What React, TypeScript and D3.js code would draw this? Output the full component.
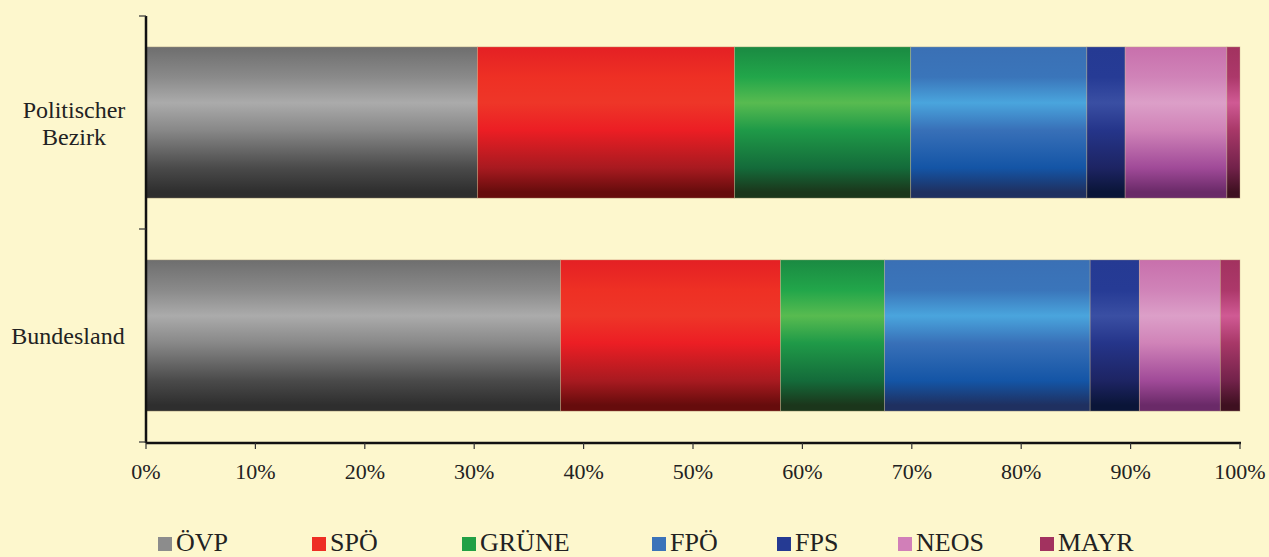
import React from "react";
import * as d3 from "d3";

const categories = ["Politischer Bezirk", "Bundesland"];
const parties = ["ÖVP", "SPÖ", "GRÜNE", "FPÖ", "FPS", "NEOS", "MAYR"];
const bezirkValues = [30.3, 23.5, 16.1, 16.1, 3.5, 9.3, 1.2];
const bundeslandValues = [37.9, 20.1, 9.5, 18.8, 4.5, 7.4, 1.8];
const xTicks = [0, 10, 20, 30, 40, 50, 60, 70, 80, 90, 100];

const legendColors = ["#8c8c8c", "#ee2e24", "#22a046", "#3b73b9", "#253a93", "#d17fb8", "#a2325f"];
const gradStops = [
  ["#6e6e6e", "#8a8a8a", "#ababab", "#888888", "#4a4a4a", "#2e2e2e"],
  ["#e42024", "#ee3024", "#ee3628", "#ec1e24", "#a81a20", "#660c0c"],
  ["#1a8a42", "#22a64a", "#58bb50", "#1f9a48", "#146b3a", "#1b361b"],
  ["#3a70b5", "#3a75ba", "#4aa5dd", "#3870b8", "#1455a6", "#1f3060"],
  ["#253a93", "#263b95", "#3a4fa3", "#25358a", "#1d2463", "#0a1538"],
  ["#c870ac", "#d083b8", "#dc9fc8", "#d083b8", "#a04a98", "#6a2a68"],
  ["#a2325f", "#ac386a", "#d05a94", "#a83868", "#72224a", "#3e1020"],
];
const stopOffsets = [0, 0.2, 0.37, 0.55, 0.8, 0.96];
const legendX = [158, 312, 462, 652, 777, 898, 1040];

export default function App() {
  const W = 1269, H = 557;
  const x0 = 146, x1 = 1240, yTop = 16, yBot = 442;
  const x = d3.scaleLinear().domain([0, 100]).range([x0, x1]);
  const y = d3.scaleBand().domain(categories).range([yTop, yBot]).paddingInner(0.29).paddingOuter(0.145);
  const valuesByCat = [bezirkValues, bundeslandValues];
  const font = "'Liberation Serif', 'Times New Roman', serif";

  return (
    <svg width={W} height={H} style={{ position: "absolute", left: 0, top: 0, display: "block" }}>
      <defs>
        {gradStops.map((stops, i) => (
          <linearGradient key={i} id={`g${i}`} x1="0" y1="0" x2="0" y2="1">
            {stops.map((c, j) => (
              <stop key={j} offset={stopOffsets[j]} stopColor={c} />
            ))}
          </linearGradient>
        ))}
      </defs>
      <rect width={W} height={H} fill="#fdf7cd" />
      {categories.map((cat, ci) => {
        const vals = valuesByCat[ci];
        let acc = 0;
        return (
          <g key={cat}>
            {vals.map((v, i) => {
              const start = acc;
              acc += v;
              return (
                <rect
                  key={i}
                  x={x(start)}
                  y={y(cat)!}
                  width={x(acc) - x(start)}
                  height={y.bandwidth()}
                  fill={`url(#g${i})`}
                  stroke="rgba(200,180,140,0.45)"
                  strokeWidth={0.8}
                />
              );
            })}
          </g>
        );
      })}
      <text textAnchor="middle" fontFamily={font} fontSize={24} fill="#222">
        <tspan x={74} y={118}>Politischer</tspan>
        <tspan x={74} y={145}>Bezirk</tspan>
      </text>
      <text x={68} y={344} textAnchor="middle" fontFamily={font} fontSize={24} fill="#222">Bundesland</text>
      <line x1={x0} x2={x0} y1={yTop} y2={yBot + 1} stroke="#111" strokeWidth={2.5} />
      {[yTop, (yTop + yBot) / 2, yBot].map((ty, i) => (
        <line key={i} x1={x0 - 7} x2={x0} y1={ty} y2={ty} stroke="#333" strokeWidth={1.2} />
      ))}
      <line x1={x0} x2={x1 + 1} y1={yBot + 1} y2={yBot + 1} stroke="#111" strokeWidth={2.5} />
      {xTicks.map((t) => (
        <g key={t}>
          <line x1={x(t)} x2={x(t)} y1={yBot + 1} y2={yBot + 7} stroke="#333" strokeWidth={1.2} />
          <text x={x(t)} y={479} textAnchor="middle" fontFamily={font} fontSize={22} fill="#222">{`${t}%`}</text>
        </g>
      ))}
      {parties.map((p, i) => (
        <g key={p}>
          <rect x={legendX[i]} y={537} width={14} height={14} fill={legendColors[i]} />
          <text x={legendX[i] + 18} y={551} fontFamily={font} fontSize={26} fill="#222">{p}</text>
        </g>
      ))}
    </svg>
  );
}
